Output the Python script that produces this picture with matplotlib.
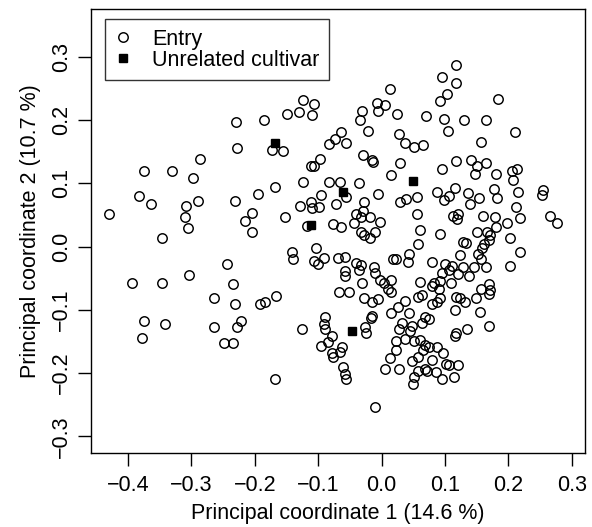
import numpy as np
import matplotlib
matplotlib.use("Agg")
import matplotlib.pyplot as plt

plt.rcParams['font.family'] = ['Liberation Sans', 'DejaVu Sans']

# principal coordinates of the entries
entry_pc1 = [
    -0.229, -0.228, -0.186, 0.013, -0.124, -0.107, -0.131, -0.149, -0.109, -0.008,
    0.005, -0.005, -0.031, -0.034, 0.025, -0.021, 0.070, -0.064, -0.074, -0.056,
    -0.083, 0.027, 0.037, 0.051, 0.065, -0.156, -0.173, 0.118, 0.095, 0.118,
    0.103, 0.092, 0.184, 0.098, 0.130, 0.165, 0.104, 0.210, 0.156, -0.287,
    -0.374, -0.330, -0.298, -0.383, -0.364, -0.4295, -0.308, -0.290, -0.310, -0.306,
    -0.347, -0.231, -0.195, -0.204, -0.215, -0.204, -0.244, -0.394, -0.346, -0.303,
    -0.235, -0.097, -0.112, -0.106, -0.015, -0.0135, -0.029, 0.029, 0.015, -0.168,
    -0.124, -0.083, -0.066, -0.035, -0.056, -0.095, -0.005, -0.128, -0.112, -0.110,
    -0.099, -0.072, -0.027, -0.030, -0.041, -0.032, -0.018, -0.002, -0.043, 0.029,
    0.039, 0.056, 0.056, 0.060, 0.057, -0.152, -0.117, -0.076, -0.064, -0.032,
    -0.027, -0.018, -0.010, -0.103, -0.141, -0.140, -0.106, -0.091, -0.100, -0.069,
    -0.057, -0.041, -0.032, -0.036, -0.057, -0.058, -0.012, -0.010, -0.002, 0.018,
    0.022, 0.043, 0.041, 0.015, 0.003, -0.031, 0.061, 0.117, 0.141, 0.150,
    0.165, 0.095, 0.147, 0.181, 0.206, 0.214, 0.208, 0.087, 0.115, 0.106,
    0.099, 0.136, 0.153, 0.140, 0.177, 0.182, 0.215, 0.255, 0.253, 0.212,
    0.219, 0.266, 0.277, 0.113, 0.1205, 0.119, 0.160, 0.179, 0.181, 0.198,
    0.150, 0.166, 0.171, 0.169, 0.092, 0.128, 0.133, 0.203, 0.161, 0.158,
    0.152, 0.156, 0.123, 0.219, 0.079, 0.100, 0.111, 0.106, 0.128, 0.145,
    0.165, 0.202, 0.096, 0.120, 0.138, 0.083, 0.092, 0.109, 0.079, 0.090,
    0.170, 0.171, 0.157, -0.264, -0.231, -0.191, -0.375, -0.341, -0.378, -0.264,
    -0.222, -0.228, -0.248, -0.234, -0.184, -0.166, -0.067, -0.051, -0.028, -0.015,
    -0.005, 0.010, 0.015, 0.037, 0.058, 0.064, -0.126, -0.090, -0.091, -0.089,
    -0.078, -0.085, -0.095, -0.078, -0.076, -0.063, -0.065, -0.061, -0.058, -0.056,
    -0.168, -0.026, -0.025, -0.015, -0.016, 0.015, 0.026, 0.044, 0.068, 0.064,
    0.032, 0.027, 0.048, 0.045, 0.037, 0.051, 0.061, 0.022, 0.023, 0.013,
    0.069, 0.066, 0.048, 0.057, 0.058, 0.051, 0.049, 0.005, 0.028, -0.010,
    0.069, 0.079, 0.087, 0.092, 0.074, 0.115, 0.118, 0.123, 0.131, 0.149,
    0.169, 0.155, 0.169, 0.135, 0.118, 0.116, 0.074, 0.087, 0.097, 0.079,
    0.102, 0.107, 0.120, 0.072, 0.086, 0.095, 0.114,
]
entry_pc2 = [
    0.197, 0.156, 0.200, 0.250, 0.232, 0.226, 0.213, 0.210, 0.209, 0.228,
    0.224, 0.215, 0.215, 0.200, 0.210, 0.183, 0.207, 0.181, 0.171, 0.164,
    0.162, 0.178, 0.164, 0.158, 0.161, 0.151, 0.153, 0.287, 0.269, 0.259,
    0.241, 0.230, 0.233, 0.202, 0.200, 0.200, 0.183, 0.182, 0.166, 0.138,
    0.120, 0.119, 0.108, 0.080, 0.067, 0.051, 0.065, 0.073, 0.047, 0.030,
    0.013, 0.073, 0.083, 0.054, 0.040, 0.023, -0.027, -0.058, -0.057, -0.045,
    -0.059, 0.139, 0.127, 0.127, 0.137, 0.134, 0.145, 0.132, 0.113, 0.094,
    0.102, 0.103, 0.103, 0.101, 0.078, 0.082, 0.083, 0.065, 0.070, 0.061,
    0.063, 0.067, 0.070, 0.056, 0.052, 0.047, 0.047, 0.039, 0.038, 0.071,
    0.075, 0.079, 0.052, 0.026, 0.004, 0.047, 0.032, 0.036, 0.031, 0.023,
    0.018, 0.014, 0.023, -0.002, -0.008, -0.020, -0.023, -0.018, -0.028, -0.018,
    -0.017, -0.026, -0.029, -0.037, -0.038, -0.046, -0.032, -0.041, -0.053, -0.020,
    -0.020, -0.012, -0.025, -0.053, -0.057, -0.057, -0.056, 0.136, 0.137, 0.128,
    0.132, 0.123, 0.115, 0.115, 0.120, 0.123, 0.105, 0.086, 0.093, 0.080,
    0.074, 0.085, 0.077, 0.068, 0.091, 0.077, 0.086, 0.090, 0.081, 0.062,
    0.046, 0.048, 0.038, 0.048, 0.051, 0.043, 0.048, 0.047, 0.031, 0.037,
    0.023, 0.023, 0.018, 0.010, 0.020, 0.007, 0.005, 0.014, 0.004, -0.002,
    -0.011, -0.019, -0.013, -0.009, -0.025, -0.028, -0.031, -0.037, -0.032, -0.032,
    -0.032, -0.031, -0.041, -0.044, -0.046, -0.057, -0.054, -0.057, -0.062, -0.067,
    -0.059, -0.069, -0.067, -0.082, -0.090, -0.090, -0.118, -0.123, -0.145, -0.127,
    -0.117, -0.127, -0.152, -0.152, -0.088, -0.078, -0.072, -0.072, -0.081, -0.088,
    -0.083, -0.067, -0.072, -0.086, -0.080, -0.077, -0.130, -0.112, -0.122, -0.131,
    -0.142, -0.151, -0.157, -0.169, -0.174, -0.158, -0.167, -0.190, -0.202, -0.210,
    -0.210, -0.127, -0.136, -0.109, -0.113, -0.105, -0.096, -0.105, -0.112, -0.121,
    -0.121, -0.130, -0.125, -0.134, -0.146, -0.150, -0.148, -0.150, -0.163, -0.176,
    -0.156, -0.164, -0.181, -0.175, -0.196, -0.206, -0.217, -0.194, -0.194, -0.253,
    -0.193, -0.091, -0.088, -0.081, -0.114, -0.100, -0.080, -0.081, -0.088, -0.081,
    -0.075, -0.104, -0.125, -0.130, -0.137, -0.142, -0.159, -0.159, -0.169, -0.180,
    -0.185, -0.188, -0.188, -0.196, -0.198, -0.210, -0.207,
]

# unrelated cultivars
cultivar_pc1 = [-0.168, -0.061, 0.0495, -0.111, -0.047]
cultivar_pc2 = [0.164, 0.086, 0.104, 0.035, -0.133]

xticks = [-0.4, -0.3, -0.2, -0.1, 0.0, 0.1, 0.2, 0.3]
yticks = [-0.3, -0.2, -0.1, 0.0, 0.1, 0.2, 0.3]

fig = plt.figure(figsize=(5.92, 5.27), dpi=100)
ax = fig.add_axes([90.7 / 592, 1 - 452.7 / 527, 494.3 / 592, 443.4 / 527])

ax.plot(entry_pc1, entry_pc2, linestyle="none", marker="o", markersize=6.8,
        markerfacecolor="none", markeredgecolor="black", markeredgewidth=1.05,
        label="Entry")
ax.plot(cultivar_pc1, cultivar_pc2, linestyle="none", marker="s", markersize=6.3,
        color="black", label="Unrelated cultivar")

ax.set_xlim(-0.4588, 0.3208)
ax.set_ylim(-0.326, 0.3755)
ax.set_xticks(xticks)
ax.set_yticks(yticks)
ax.set_xticklabels([f"{t:.1f}".replace("-", "\u2212") for t in xticks])
ax.set_yticklabels([f"{t:.1f}".replace("-", "\u2212") for t in yticks],
                   rotation=90, va="center")
ax.tick_params(direction="out", length=9.4, width=1.0, labelsize=15.5)
ax.tick_params(axis="x", pad=6.5)
ax.tick_params(axis="y", pad=4)
for s in ax.spines.values():
    s.set_linewidth(1.0)

ax.set_xlabel("Principal coordinate 1 (14.6 %)", fontsize=15.5, labelpad=5)
ax.set_ylabel("Principal coordinate 2 (10.7 %)", fontsize=15.5, labelpad=7.5)

leg = ax.legend(loc="upper left", bbox_to_anchor=(0.029, 0.978), borderaxespad=0,
                fontsize=15.5, frameon=True, fancybox=False, borderpad=0.45,
                handlelength=0.8, handletextpad=0.95, labelspacing=0.0)
leg.get_frame().set_edgecolor("black")
leg.get_frame().set_linewidth(1.0)

fig.savefig("out.png", dpi=100)
plt.close(fig)
